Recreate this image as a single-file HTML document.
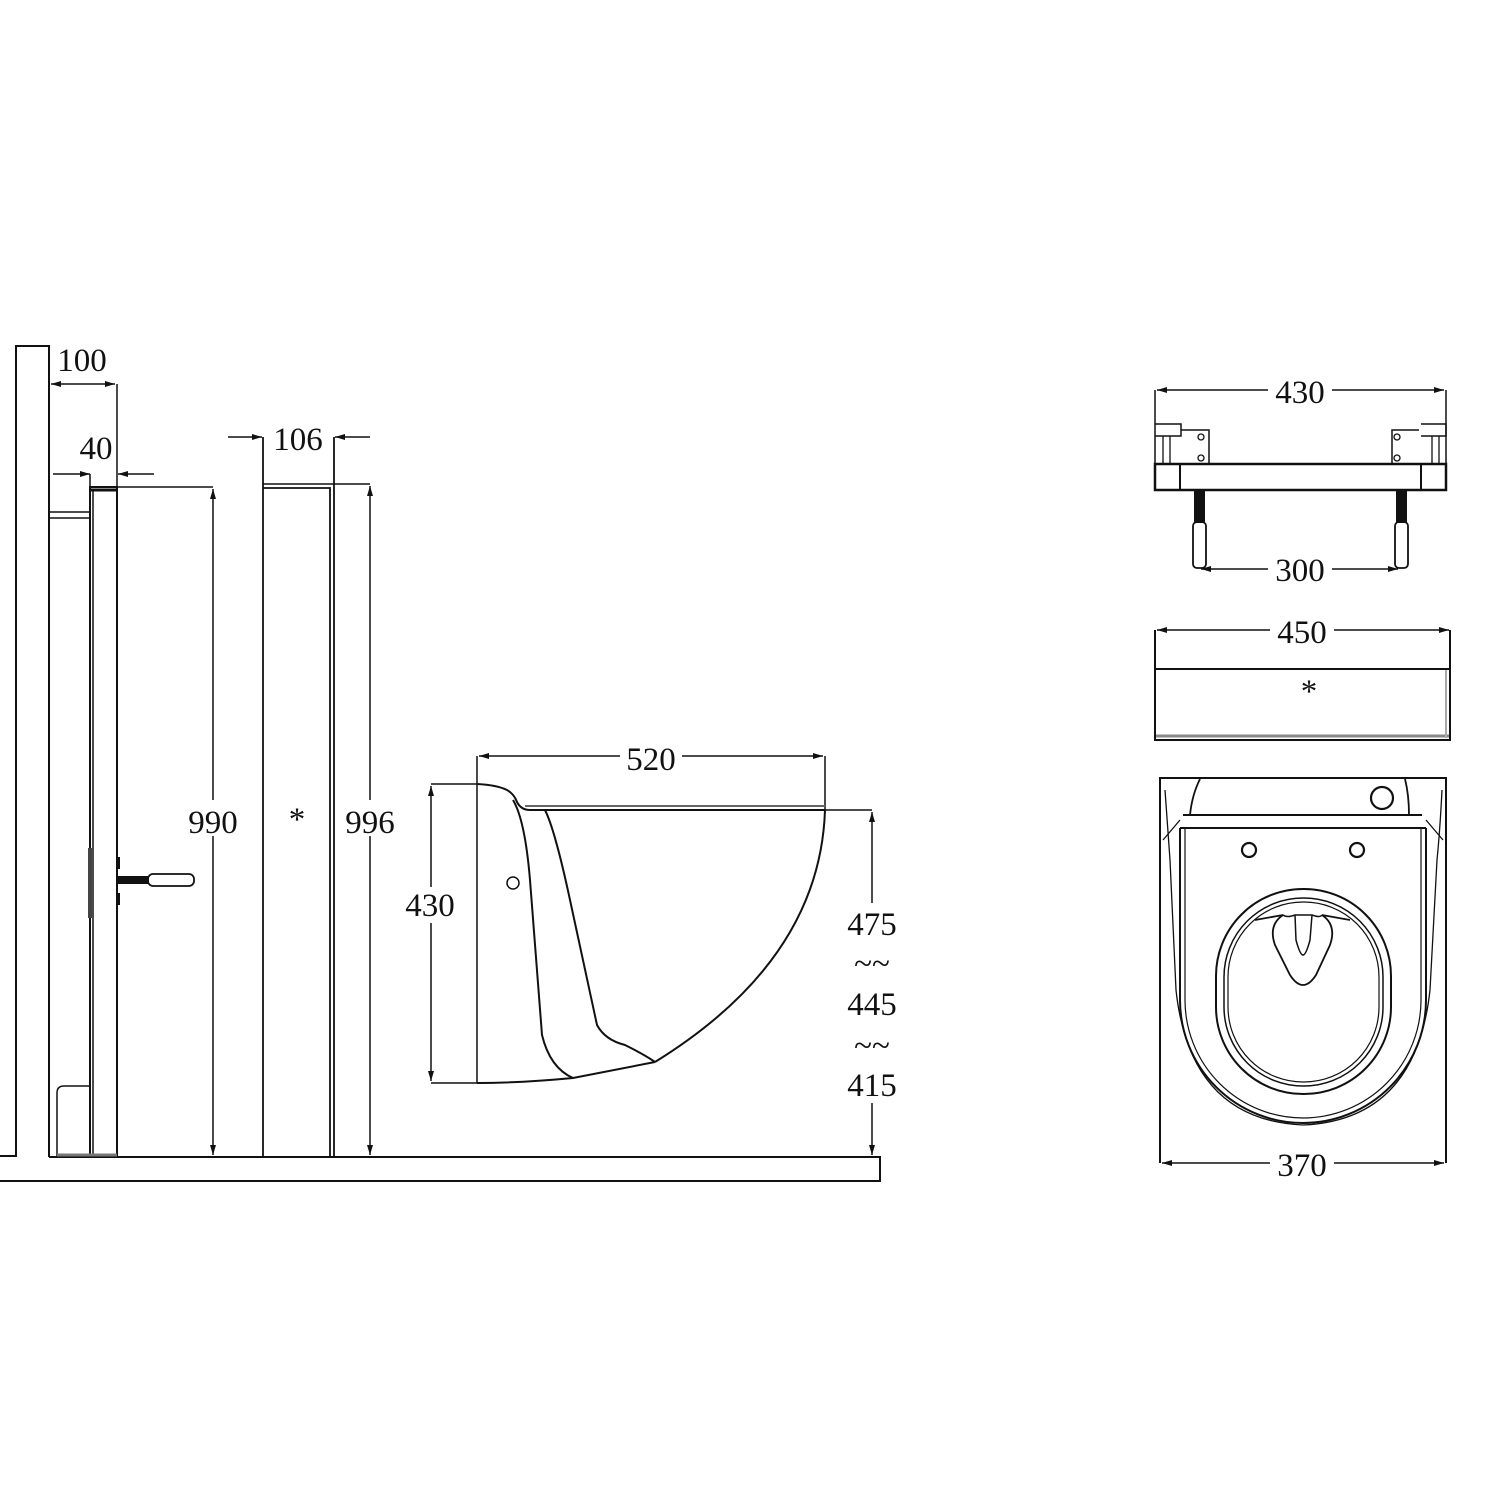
<!DOCTYPE html>
<html><head><meta charset="utf-8"><style>
html,body{margin:0;padding:0;background:#fff}
svg{display:block}
text{font-family:"Liberation Serif",serif;font-size:33px;fill:#111;text-anchor:middle}
</style></head><body>
<svg width="1500" height="1500" viewBox="0 0 1500 1500" xmlns="http://www.w3.org/2000/svg">
<defs>
<marker id="a" viewBox="0 0 10 6" refX="10" refY="3" markerWidth="16" markerHeight="6" orient="auto-start-reverse" markerUnits="userSpaceOnUse"><path d="M0,0 L10,3 L0,6 z" fill="#111"/></marker>
</defs>
<g fill="none" stroke="#111" stroke-width="2">
<path d="M0,1156 H16 V346 H49 V1157"/>
<path d="M49,1157 H880 V1181 H0"/>
<path d="M90,1157 V487 H117 V1157"/>
<path d="M93,490 V1157" stroke-width="1.5"/>
<path d="M91,490 H117" stroke-width="3"/>
<path d="M49,512 H90 M49,518 H90" stroke-width="1.5"/>
<path d="M90,1086 H64 Q57,1086 57,1093 V1157" stroke-width="1.5"/>
<path d="M57,1155 H117" stroke="#777" stroke-width="3"/>
<rect x="88" y="848" width="4" height="70" fill="#444" stroke="none"/>
<rect x="117" y="876" width="32" height="8" fill="#111" stroke="none"/>
<rect x="116" y="857" width="4" height="12" fill="#111" stroke="none"/>
<rect x="116" y="893" width="4" height="12" fill="#111" stroke="none"/>
<rect x="148" y="874" width="46" height="12" rx="5" stroke-width="1.8"/>
<path d="M51,384 H115" marker-start="url(#a)" marker-end="url(#a)" stroke-width="1.5"/>
<path d="M117,384 V490" stroke-width="1.5"/>
<path d="M53,474 H90" marker-end="url(#a)" stroke-width="1.5"/>
<path d="M90,474 V487" stroke-width="1.5"/>
<path d="M154,474 H118" marker-end="url(#a)" stroke-width="1.5"/>
<path d="M117,487 H213" stroke-width="1.5"/>
<path d="M213,489 V1155" marker-start="url(#a)" marker-end="url(#a)" stroke-width="1.5"/>
<path d="M263,437 V1157" stroke-width="1.8"/>
<path d="M263,488 H330 V1157" stroke-width="1.8"/>
<path d="M263,484 H370" stroke-width="1.5"/>
<path d="M334,437 V1157" stroke-width="1.8"/>
<path d="M228,437 H262" marker-end="url(#a)" stroke-width="1.5"/>
<path d="M370,437 H335" marker-end="url(#a)" stroke-width="1.5"/>
<path d="M370,486 V1155" marker-start="url(#a)" marker-end="url(#a)" stroke-width="1.5"/>
<path d="M479,756 H823" marker-start="url(#a)" marker-end="url(#a)" stroke-width="1.5"/>
<path d="M477,756 V1083 M825,756 V810" stroke-width="1.5"/>
<path d="M431,786 V1081" marker-start="url(#a)" marker-end="url(#a)" stroke-width="1.5"/>
<path d="M431,784 H477 M431,1083 H477" stroke-width="1.5"/>
<path d="M477,784 Q497,785 507,790 Q514,794 517,802 Q521,810 530,810 H825"/>
<path d="M525,806 H825" stroke="#666" stroke-width="2"/>
<path d="M825,810 Q820,960 655,1062"/>
<path d="M655,1062 L573,1078 Q520,1083 477,1083"/>
<path d="M513,800 Q525,820 530,880 L542,1035 Q550,1068 573,1078"/>
<path d="M545,810 Q555,830 570,900 L597,1025 Q605,1040 625,1045 Q645,1055 655,1062"/>
<circle cx="513" cy="883" r="6" stroke-width="1.5"/>
<path d="M825,810 H872" stroke-width="1.5"/>
<path d="M872,812 V1155" marker-start="url(#a)" marker-end="url(#a)" stroke-width="1.5"/>
<path d="M1157,390 H1444" marker-start="url(#a)" marker-end="url(#a)" stroke-width="1.5"/>
<path d="M1155,390 V490 M1446,390 V490" stroke-width="1.5"/>
<rect x="1155" y="464" width="291" height="26" stroke-width="2.5"/>
<path d="M1180,464 V490 M1421,464 V490"/>
<path d="M1155,424 H1181 V436 H1155 M1421,424 H1446 V436 H1421" stroke-width="1.5"/>
<path d="M1181,430 H1209 V464 M1419,430 H1392 V464" stroke-width="1.5"/>
<circle cx="1201" cy="437" r="3" stroke-width="1.3"/><circle cx="1201" cy="458" r="3" stroke-width="1.3"/>
<circle cx="1397" cy="437" r="3" stroke-width="1.3"/><circle cx="1397" cy="458" r="3" stroke-width="1.3"/>
<path d="M1163,436 V464 M1170,436 V464 M1432,436 V464 M1439,436 V464" stroke-width="1.3"/>
<rect x="1194" y="490" width="11" height="33" fill="#111" stroke="none"/>
<rect x="1396" y="490" width="11" height="33" fill="#111" stroke="none"/>
<rect x="1193" y="522" width="13" height="46" rx="4" stroke-width="1.8"/>
<rect x="1395" y="522" width="13" height="46" rx="4" stroke-width="1.8"/>
<path d="M1201,569 H1398" marker-start="url(#a)" marker-end="url(#a)" stroke-width="1.5"/>
<path d="M1157,630 H1449" marker-start="url(#a)" marker-end="url(#a)" stroke-width="1.5"/>
<path d="M1155,630 V740 H1450 V630" stroke-width="2"/>
<path d="M1155,669 H1451" stroke-width="2"/>
<path d="M1156,736 H1449" stroke="#888" stroke-width="3"/>
<path d="M1446,670 V738" stroke="#aaa" stroke-width="2"/>
<path d="M1160,1163 V778 H1446 V1163" stroke-width="2"/>
<path d="M1162,1163 H1444" marker-start="url(#a)" marker-end="url(#a)" stroke-width="1.5"/>
<path d="M1200,779 Q1192,795 1190,815 H1409 Q1409,795 1405,779" stroke-width="1.8"/>
<path d="M1183,815 H1422 M1180,828 H1426" stroke-width="2"/>
<circle cx="1382" cy="798" r="11" stroke-width="2.2"/>
<circle cx="1249" cy="850" r="7" stroke-width="2.2"/>
<circle cx="1357" cy="850" r="7" stroke-width="2.2"/>
<path d="M1180,828 V1000 A123,123 0 0 0 1426,1000 V828" stroke-width="2"/>
<path d="M1185,828 V1000 A118,118 0 0 0 1421,1000 V828" stroke-width="1.2"/>
<path d="M1165,790 Q1168,830 1170,860 L1176,990 Q1190,1120 1303,1125 Q1416,1120 1430,990 L1437,860 Q1440,830 1442,790" stroke-width="1.3"/>
<path d="M1180,820 L1163,840 M1426,820 L1443,840" stroke-width="1.3"/>
<rect x="1216" y="889" width="175" height="205" rx="87" stroke-width="2"/>
<rect x="1224" y="898" width="159" height="188" rx="79" stroke-width="1.5"/>
<rect x="1228" y="902" width="151" height="180" rx="75" stroke-width="1.2"/>
<path d="M1255,920 L1283,915 Q1268,925 1275,945 L1290,975 Q1303,995 1316,975 L1330,945 Q1337,925 1322,915 L1350,920" stroke-width="1.8"/>
<path d="M1283,915 Q1287,918 1295,915 L1312,915 Q1320,918 1322,915 M1295,915 L1296,940 Q1300,955 1303,955 Q1306,955 1310,940 L1312,915" stroke-width="1.5"/>
</g>
<g>
<rect x="58" y="340" width="52" height="36" fill="#fff"/>
<text x="82" y="371">100</text>
<text x="96" y="459">40</text>
<rect x="183" y="800" width="60" height="36" fill="#fff"/>
<text x="213" y="833">990</text>
<text x="298" y="450">106</text>
<text x="297" y="830" font-size="36" fill="#444">*</text>
<rect x="340" y="800" width="60" height="36" fill="#fff"/>
<text x="370" y="833">996</text>
<rect x="620" y="740" width="62" height="34" fill="#fff"/>
<text x="651" y="770">520</text>
<rect x="402" y="887" width="58" height="36" fill="#fff"/>
<text x="430" y="916">430</text>
<rect x="842" y="903" width="60" height="200" fill="#fff"/>
<text x="872" y="935">475</text>
<text x="872" y="974" font-size="26">~~</text>
<text x="872" y="1015">445</text>
<text x="872" y="1056" font-size="26">~~</text>
<text x="872" y="1096">415</text>
<rect x="1268" y="374" width="64" height="34" fill="#fff"/>
<text x="1300" y="403">430</text>
<rect x="1268" y="552" width="64" height="34" fill="#fff"/>
<text x="1300" y="581">300</text>
<rect x="1270" y="614" width="64" height="34" fill="#fff"/>
<text x="1302" y="643">450</text>
<text x="1309" y="702" font-size="36" fill="#444">*</text>
<rect x="1270" y="1146" width="64" height="34" fill="#fff"/>
<text x="1302" y="1176">370</text>
</g>
</svg>
</body></html>
